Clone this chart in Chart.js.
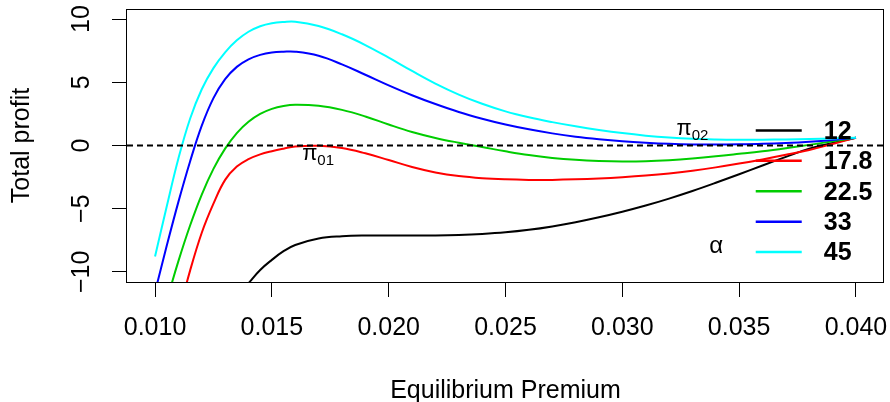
<!DOCTYPE html>
<html>
<head>
<meta charset="utf-8">
<script src="https://cdn.jsdelivr.net/npm/chart.js@4/dist/chart.umd.min.js"></script>
<style>html,body{margin:0;padding:0;background:#fff}</style>
</head>
<body>
<canvas id="chart" width="890" height="402"></canvas>
<script>
const FONT = '"Liberation Sans", Arial, sans-serif';

// equilibrium premium (x) and total profit per alpha
const premium = [0.0100, 0.0105, 0.0110, 0.0115, 0.0120, 0.0125, 0.0130, 0.0135, 0.0140, 0.0145,
  0.0150, 0.0155, 0.0160, 0.0170, 0.0180, 0.0190, 0.0200, 0.0210, 0.0220, 0.0230, 0.0240,
  0.0250, 0.0260, 0.0270, 0.0280, 0.0290, 0.0300, 0.0310, 0.0320, 0.0330, 0.0340, 0.0350,
  0.0360, 0.0370, 0.0380, 0.0390, 0.0400];
const profit12 = [null, null, null, null, null, null, -13.2, -12.0, -10.9, -9.85,
  -9.05, -8.36, -7.87, -7.36, -7.18, -7.12, -7.12, -7.13, -7.12, -7.08, -7.0,
  -6.87, -6.67, -6.4, -6.07, -5.68, -5.24, -4.75, -4.2, -3.6, -2.95, -2.27,
  -1.58, -0.9, -0.25, 0.2, 0.62];
const profit17_8 = [-21.3, -17.2, -13.4, -9.9, -6.9, -4.6, -2.72, -1.67, -1.08, -0.7,
  -0.45, -0.25, -0.08, -0.02, -0.2, -0.62, -1.15, -1.7, -2.13, -2.42, -2.59,
  -2.68, -2.72, -2.72, -2.68, -2.61, -2.51, -2.38, -2.21, -1.99, -1.73, -1.43,
  -1.1, -0.74, -0.35, 0.12, 0.62];
const profit22_5 = [-15.7, -12.3, -9.15, -6.33, -3.88, -1.85, -0.25, 0.98, 1.88, 2.5,
  2.9, 3.13, 3.23, 3.15, 2.82, 2.3, 1.66, 1.07, 0.6, 0.22, -0.12,
  -0.46, -0.76, -0.98, -1.13, -1.22, -1.26, -1.24, -1.16, -1.03, -0.86, -0.66,
  -0.45, -0.21, 0.05, 0.33, 0.62];
const profit33 = [-11.59, -7.94, -4.46, -1.26, 1.57, 3.75, 5.25, 6.22, 6.82, 7.17,
  7.36, 7.42, 7.42, 7.1, 6.42, 5.6, 4.76, 3.98, 3.28, 2.65, 2.12,
  1.66, 1.28, 0.96, 0.7, 0.5, 0.34, 0.22, 0.13, 0.08, 0.07, 0.09,
  0.13, 0.2, 0.3, 0.44, 0.62];
const profit45 = [-8.78, -4.83, -1.03, 2.12, 4.45, 6.12, 7.37, 8.32, 9.0, 9.44,
  9.68, 9.78, 9.8, 9.45, 8.8, 7.95, 6.95, 5.9, 4.9, 4.03, 3.3,
  2.7, 2.23, 1.85, 1.52, 1.23, 0.98, 0.78, 0.63, 0.53, 0.48, 0.46,
  0.46, 0.48, 0.51, 0.56, 0.62];

const alphaLabels = ['12', '17.8', '22.5', '33', '45'];
const alphaColors = ['#000000', '#ff0000', '#00cd00', '#0000ff', '#00ffff'];
const profitSeries = [profit12, profit17_8, profit22_5, profit33, profit45];

const xTicks = [0.010, 0.015, 0.020, 0.025, 0.030, 0.035, 0.040];
const yTicks = [-10, -5, 0, 5, 10];
const xRange = [0.0088, 0.0412];
const yRange = [-10.8, 10.8];

// text annotations, in data coordinates
const piLabels = [{sub: '01', x: 0.01698, y: -1.13}, {sub: '02', x: 0.0330, y: 0.85}];
const legendAt = {x: 0.03571, y: 1.19};
const alphaAt = {x: 0.03402, y: -7.99};

const datasets = profitSeries.map((s, i) => ({
  label: alphaLabels[i],
  data: premium.map((p, j) => ({x: p, y: s[j]})),
  borderColor: alphaColors[i],
  borderWidth: 2,
  pointRadius: 0,
  tension: 0.4,
  order: profitSeries.length - i
}));
datasets.push({
  label: 'zero',
  data: [{x: xRange[0], y: 0}, {x: xRange[1], y: 0}],
  borderColor: '#000',
  borderWidth: 2,
  borderDash: [6, 4],
  pointRadius: 0,
  order: -1
});

const decor = {
  id: 'decor',
  afterDatasetsDraw(chart){
    const {ctx, chartArea: a, scales: {x, y}} = chart;
    ctx.save();
    ctx.strokeStyle = '#000';
    ctx.lineWidth = 1;
    ctx.strokeRect(a.left - 0.5, a.top + 0.5, a.right - a.left, a.bottom - a.top);

    ctx.fillStyle = '#000';
    ctx.textAlign = 'left';
    ctx.textBaseline = 'alphabetic';
    piLabels.forEach(p=>{
      ctx.font = '22px ' + FONT;
      const w1 = ctx.measureText('\u03c0').width;
      ctx.font = '15px ' + FONT;
      const w2 = ctx.measureText(p.sub).width;
      const x0 = x.getPixelForValue(p.x) - (w1 + w2) / 2;
      const by = y.getPixelForValue(p.y);
      ctx.font = '22px ' + FONT;
      ctx.fillText('\u03c0', x0, by);
      ctx.font = '15px ' + FONT;
      ctx.fillText(p.sub, x0 + w1, by + 5);
    });

    // legend, no box
    const lx = x.getPixelForValue(legendAt.x);
    const ly = y.getPixelForValue(legendAt.y);
    ctx.textBaseline = 'middle';
    alphaLabels.forEach((lab, i)=>{
      const yy = ly + i * 30.4;
      ctx.strokeStyle = alphaColors[i];
      ctx.lineWidth = 2.5;
      ctx.beginPath();
      ctx.moveTo(lx, yy);
      ctx.lineTo(lx + 46, yy);
      ctx.stroke();
      ctx.font = 'bold 25px ' + FONT;
      ctx.fillText(lab, lx + 68, yy + 1.5);
    });
    ctx.font = '24px ' + FONT;
    ctx.textAlign = 'center';
    ctx.fillText('\u03b1', x.getPixelForValue(alphaAt.x), y.getPixelForValue(alphaAt.y));
    ctx.restore();
  }
};

const tickGrid = {drawOnChartArea: false, drawTicks: true, tickLength: 15, tickColor: '#000', tickWidth: 1};
const axisFont = {family: FONT, size: 25};

new Chart(document.getElementById('chart'), {
  type: 'line',
  data: {datasets},
  options: {
    responsive: false,
    animation: false,
    devicePixelRatio: 1,
    layout: {padding: {left: 0, right: 6, top: 9, bottom: 0}, autoPadding: false},
    plugins: {legend: {display: false}, tooltip: {enabled: false}},
    scales: {
      x: {
        type: 'linear',
        min: xRange[0], max: xRange[1],
        afterBuildTicks: s=>{ s.ticks = xTicks.map(v=>({value: v})); },
        afterFit: s=>{ s.height = 120; s.paddingLeft = 0; s.paddingRight = 0; },
        grid: tickGrid,
        border: {display: false},
        ticks: {color: '#000', font: axisFont, padding: 16, maxRotation: 0, autoSkip: false,
          callback: v=>Number(v).toFixed(3)},
        title: {display: true, text: 'Equilibrium Premium', color: '#000', font: axisFont, padding: {top: 0, bottom: -4}}
      },
      y: {
        type: 'linear',
        min: yRange[0], max: yRange[1],
        afterBuildTicks: s=>{ s.ticks = yTicks.map(v=>({value: v})); },
        afterFit: s=>{ s.width = 127; s.paddingTop = 0; s.paddingBottom = 0; },
        grid: tickGrid,
        border: {display: false},
        ticks: {color: '#000', font: axisFont, padding: 9, minRotation: 90, maxRotation: 90,
          crossAlign: 'center', autoSkip: false,
          callback: v=>String(v).replace('-', '\u2212')},
        title: {display: true, text: 'Total profit', color: '#000', font: axisFont, padding: {top: 7, bottom: 0}}
      }
    }
  },
  plugins: [decor]
});
</script>
</body>
</html>
